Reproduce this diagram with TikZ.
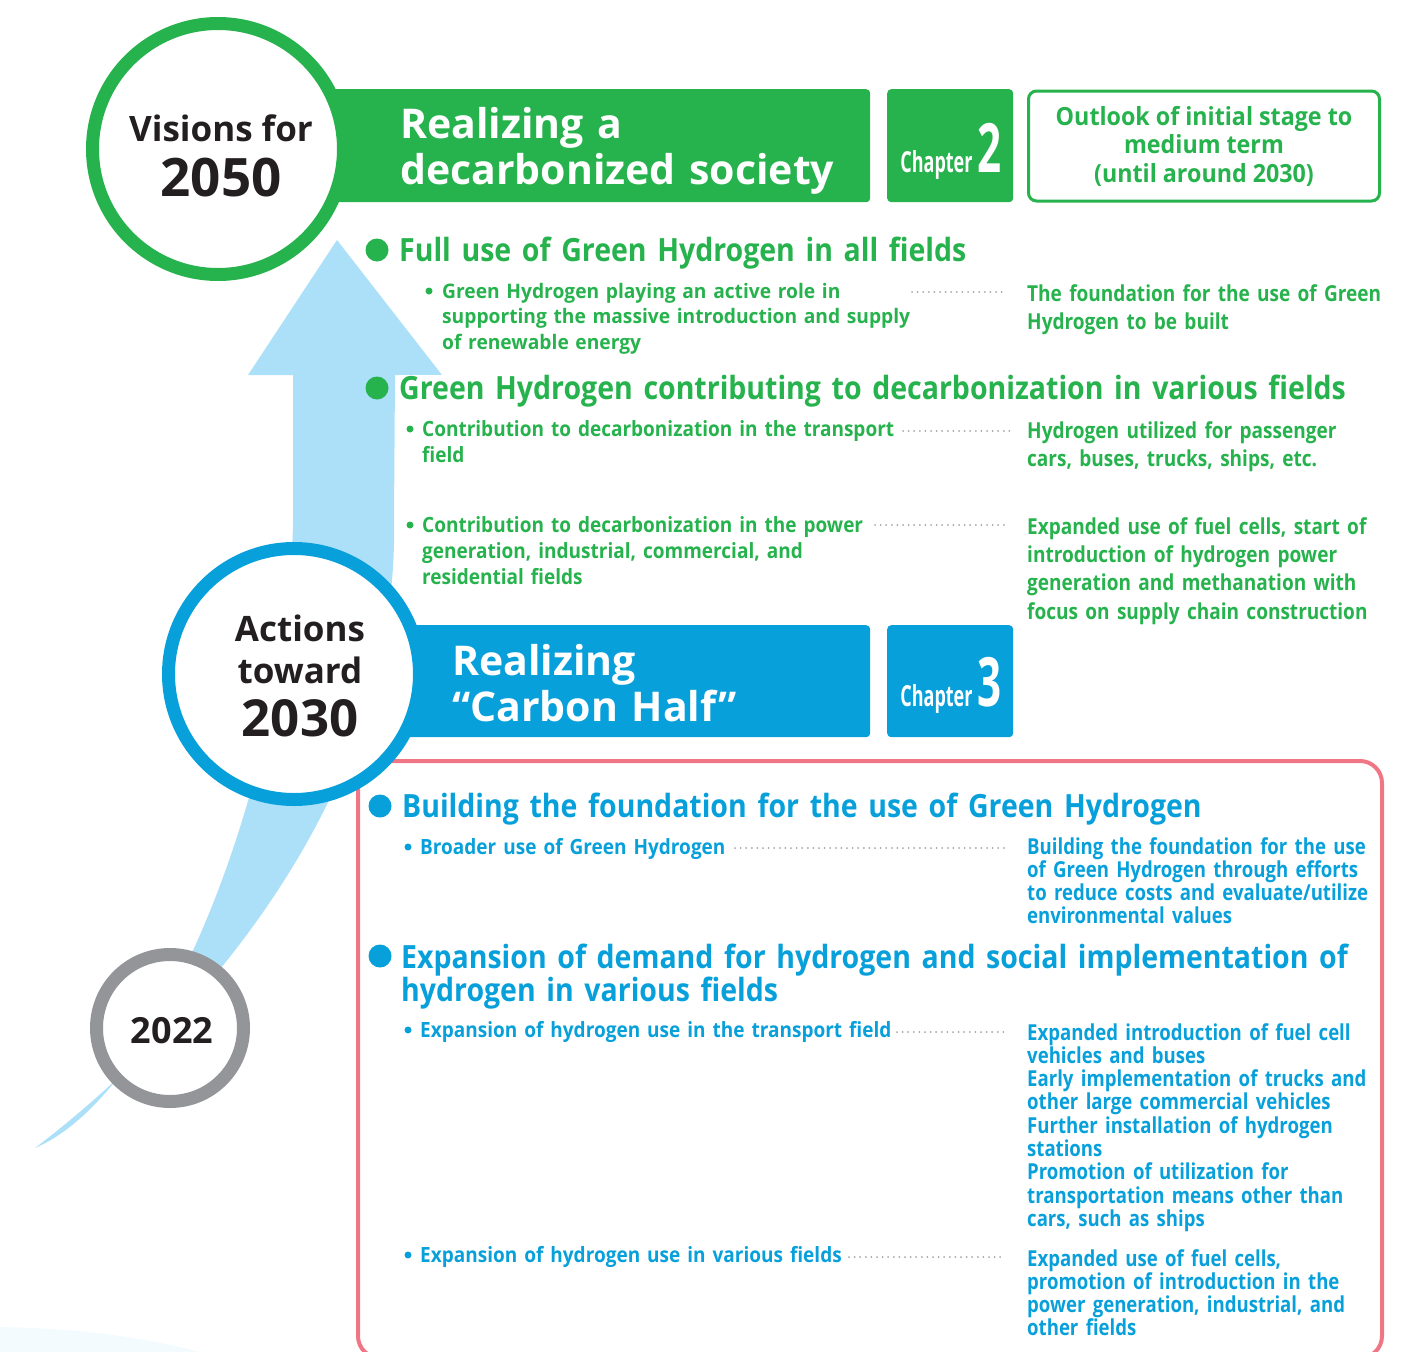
\documentclass[tikz,border=0pt]{standalone}
\usepackage{fontspec}
\setmainfont{Open Sans}
\newfontfamily\headf[FakeStretch=0.89]{Open Sans}
\newfontfamily\leadf[FakeStretch=0.96]{Open Sans}
\newfontfamily\subf[FakeStretch=0.905]{Open Sans}
\newfontfamily\notef[FakeStretch=0.865]{Open Sans}
\newfontfamily\bnotef[FakeStretch=0.845]{Open Sans}
\newfontfamily\outf[FakeStretch=0.93]{Open Sans}
\newfontfamily\chapf[FakeStretch=0.62]{Open Sans}
\newcommand{\fsz}[2]{\fontsize{#1}{#2}\selectfont}

\definecolor{hgreen}{RGB}{38,178,76}
\definecolor{hblue}{RGB}{8,160,218}
\definecolor{arrowblue}{RGB}{172,224,249}
\definecolor{ringgray}{RGB}{147,149,152}
\definecolor{boxpink}{RGB}{240,117,133}
\definecolor{inkdark}{RGB}{35,31,32}
\definecolor{dotgray}{RGB}{165,165,165}

\tikzset{
  ring/.style={circle, draw=#1, fill=white, line width=13pt, inner sep=0pt},
  bar/.style={rectangle, fill=#1, rounded corners=4pt, inner sep=0pt, anchor=north west},
  ringtxt/.style={text=inkdark, font=\bfseries\fsz{35}{42}, align=center, inner sep=0pt},
  bartxt/.style={text=white, font=\bfseries\fsz{41}{46}, text width=480pt, align=left, anchor=base west, inner sep=0pt},
  chaptxt/.style={text=white, font=\chapf\bfseries, anchor=base, inner sep=0pt},
  headtxt/.style={font=\headf\bfseries\fsz{32}{31}, text width=990pt, align=left, anchor=base west, inner sep=0pt},
  subtxt/.style={font=\subf\bfseries\fsz{21}{26}, text width=520pt, align=left, anchor=base west, inner sep=0pt},
  notetxt/.style={font=\notef\bfseries\fsz{22}{28.4}, text width=370pt, align=left, anchor=base west, inner sep=0pt},
  bnotetxt/.style={notetxt, text=hblue, font=\bnotef\bfseries\fsz{22}{23.3}},
  leader/.style={dotgray, line width=2pt, line cap=round, dash pattern=on 0pt off 5.6pt}
}

\begin{document}
\begin{tikzpicture}[x=1pt,y=-1pt]
\useasboundingbox (0,0) rectangle (1414,1352);
\clip (0,0) rectangle (1414,1352);

%faint swoosh
\fill[arrowblue!14] (0,1352) -- (0,1327) .. controls (70,1328) and (140,1336) .. (200,1352) -- cycle;

%frame for 2030
\draw[boxpink, line width=4pt, rounded corners=22pt] (358,761) rectangle (1382,1358);

%big arrow
\fill[arrowblue] (35,1148) .. controls (190,1030) and (400,800) .. (394,520)
  -- (395,375) -- (442,375) -- (337,240) -- (248,375) -- (293,375) -- (293,520)
  .. controls (290,760) and (170,1090) .. (35,1148) -- cycle;

%bars and chapter tags
\node[bar=hgreen, minimum width=540pt, minimum height=113pt] (gbar) at (330,89) {};
\node[bar=hgreen, minimum width=126pt, minimum height=113pt] (gchap) at (887,89) {};
\node[bar=hblue, minimum width=490pt, minimum height=112pt] (bbar) at (380,625) {};
\node[bar=hblue, minimum width=126pt, minimum height=112pt] (bchap) at (887,625) {};
\node[rectangle, draw=hgreen, line width=3pt, rounded corners=8pt, fill=white,
  minimum width=351pt, minimum height=110pt, text=hgreen, align=center,
  font=\outf\bfseries\fsz{25}{28.5}] (outlook) at (1204,146)
  {Outlook of initial stage to\\medium term\\(until around 2030)};

\node[bartxt] (gtitle) at (400,138) {Realizing a\\decarbonized society};
\node[bartxt] (btitle) at (452,675) {Realizing\\“Carbon Half”};
\node[chaptxt] (ch2) at (951,172) {{\fsz{29}{29}Chapter}\hspace{5pt}{\fsz{68}{68}2}};
\node[chaptxt] (ch3) at (951,706) {{\fsz{29}{29}Chapter}\hspace{5pt}{\fsz{68}{68}3}};

%milestones
\node[ring=hgreen, minimum size=251pt] (vis) at (218,149) {};
\node[ring=hblue, minimum size=251pt] (act) at (294,674) {};
\node[ring=ringgray, minimum size=147pt] (now) at (170,1028) {};
\node[ringtxt, font=\bfseries\fsz{35}{55}] (vistxt) at (221,156) {Visions for\\{\fsz{53}{53}2050}};
\node[ringtxt] (acttxt) at (300,676) {Actions\\toward\\[11pt]{\fsz{51}{51}2030}};
\node[ringtxt, font=\bfseries\fsz{36}{36}] (nowtxt) at (172,1031) {2022};

%green part
\fill[hgreen] (377,250) circle (11.5);
\node[headtxt, text=hgreen] (g1) at (399,261) {Full use of Green Hydrogen in all fields};
\fill[hgreen] (429,291) circle (3.5);
\node[subtxt, font=\leadf\bfseries\fsz{20}{25.5}, text=hgreen] (g1a) at (442,298)
  {Green Hydrogen playing an active role in\\supporting the massive introduction and supply\\of renewable energy};
\node[notetxt, text=hgreen] (g1r) at (1027,301) {The foundation for the use of Green\\Hydrogen to be built};

\fill[hgreen] (377,388) circle (11.5);
\node[headtxt, text=hgreen, fill=white, inner xsep=1pt] (g2) at (398,399) {Green Hydrogen contributing to decarbonization in various fields};
\fill[hgreen] (410,429) circle (3.5);
\node[subtxt, text=hgreen] (g2a) at (422,436) {Contribution to decarbonization in the transport\\field};
\node[notetxt, text=hgreen] (g2ar) at (1027,438) {Hydrogen utilized for passenger\\cars, buses, trucks, ships, etc.};
\fill[hgreen] (410,525) circle (3.5);
\node[subtxt, text=hgreen] (g2b) at (422,532) {Contribution to decarbonization in the power\\generation, industrial, commercial, and\\residential fields};
\node[notetxt, text=hgreen] (g2br) at (1027,534) {Expanded use of fuel cells, start of\\introduction of hydrogen power\\generation and methanation with\\focus on supply chain construction};

%blue part
\fill[hblue] (380,806) circle (11.5);
\node[headtxt, text=hblue] (b1) at (402,817) {Building the foundation for the use of Green Hydrogen};
\fill[hblue] (408,847) circle (3.5);
\node[subtxt, text=hblue] (b1a) at (420,854) {Broader use of Green Hydrogen};
\node[bnotetxt] (b1r) at (1027,854)
  {Building the foundation for the use\\of Green Hydrogen through efforts\\to reduce costs and evaluate/utilize\\environmental values};

\fill[hblue] (380,956) circle (11.5);
\node[headtxt, text=hblue] (b2) at (401,968) {Expansion of demand for hydrogen and social implementation of\\hydrogen in various fields};
\fill[hblue] (408,1030) circle (3.5);
\node[subtxt, text=hblue] (b2a) at (420,1037) {Expansion of hydrogen use in the transport field};
\node[bnotetxt] (b2ar) at (1027,1040)
  {Expanded introduction of fuel cell\\vehicles and buses\\Early implementation of trucks and\\other large commercial vehicles\\Further installation of hydrogen\\stations\\Promotion of utilization for\\transportation means other than\\cars, such as ships};
\fill[hblue] (408,1255) circle (3.5);
\node[subtxt, text=hblue] (b2b) at (420,1262) {Expansion of hydrogen use in various fields};
\node[bnotetxt] (b2br) at (1027,1266)
  {Expanded use of fuel cells,\\promotion of introduction in the\\power generation, industrial, and\\other fields};

%dotted leaders
\coordinate (l1a) at (912,292); \coordinate (l1b) at (1005,292);
\coordinate (l2a) at (903,431); \coordinate (l2b) at (1010,431);
\coordinate (l3a) at (875,525); \coordinate (l3b) at (1008,525);
\coordinate (l4a) at (735,848); \coordinate (l4b) at (1005,848);
\coordinate (l5a) at (897,1032); \coordinate (l5b) at (1005,1032);
\coordinate (l6a) at (849,1257); \coordinate (l6b) at (1005,1257);
\foreach \i in {1,...,6}
  \draw[leader] (l\i a) -- (l\i b);

\end{tikzpicture}
\end{document}
